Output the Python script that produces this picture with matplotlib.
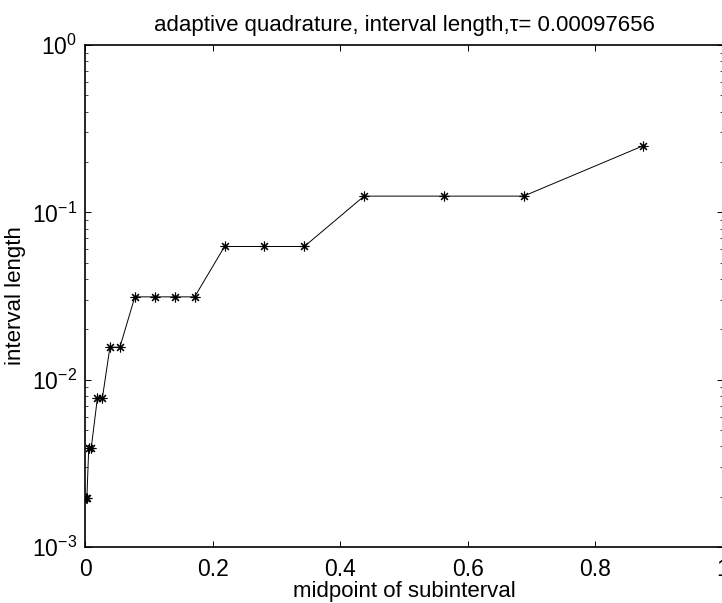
import numpy as np
import matplotlib
matplotlib.use("Agg")
import matplotlib.pyplot as plt

plt.rcParams['font.family'] = ['Liberation Sans', 'DejaVu Sans']
plt.rcParams['mathtext.fontset'] = 'custom'
plt.rcParams['mathtext.rm'] = 'Liberation Sans'
plt.rcParams['mathtext.it'] = 'Liberation Sans:italic'

# midpoints of the subintervals and their lengths
midpoints = [0.0009766, 0.0029297, 0.0058594, 0.0097656, 0.0195313, 0.0273438,
             0.0390625, 0.0546875, 0.078125, 0.109375, 0.140625, 0.171875,
             0.21875, 0.28125, 0.34375, 0.4375, 0.5625, 0.6875, 0.875]
lengths = [0.0019531, 0.0019531, 0.0039063, 0.0039063, 0.0078125, 0.0078125,
           0.015625, 0.015625, 0.03125, 0.03125, 0.03125, 0.03125,
           0.0625, 0.0625, 0.0625, 0.125, 0.125, 0.125, 0.25]
tau = 0.00097656

fig = plt.figure(figsize=(7.22, 6.03), dpi=100)
ax = fig.add_axes([85/722, 56/603, 638/722, 502/603])

# matlab style asterisk marker
ax.semilogy(midpoints, lengths, 'k-', marker=(8, 2, 0), markersize=7,
            markeredgewidth=0.8, linewidth=0.7)

ax.set_xlim(0, 1)
ax.set_ylim(1e-3, 1)
ax.set_xticks([0, 0.2, 0.4, 0.6, 0.8, 1])
ax.set_xticklabels(['0', '0.2', '0.4', '0.6', '0.8', '1'])
ax.tick_params(which='both', direction='in', top=True, right=True, labelsize=16.5)
ax.tick_params(which='major', length=4.5, width=0.7)
ax.tick_params(which='minor', length=2.2, width=0.5)
ax.tick_params(axis='x', which='major', pad=8)
ax.tick_params(axis='y', which='major', pad=6)
ax.tick_params(axis='x', which='minor', bottom=False, top=False)
for s in ax.spines.values():
    s.set_linewidth(1.2)

ax.set_title('adaptive quadrature, interval length,τ= ' + str(tau), fontsize=16, pad=10)
ax.set_xlabel('midpoint of subinterval', fontsize=16, labelpad=0)
ax.set_ylabel('interval length', fontsize=16, labelpad=4)

fig.savefig('out.png', dpi=100)
